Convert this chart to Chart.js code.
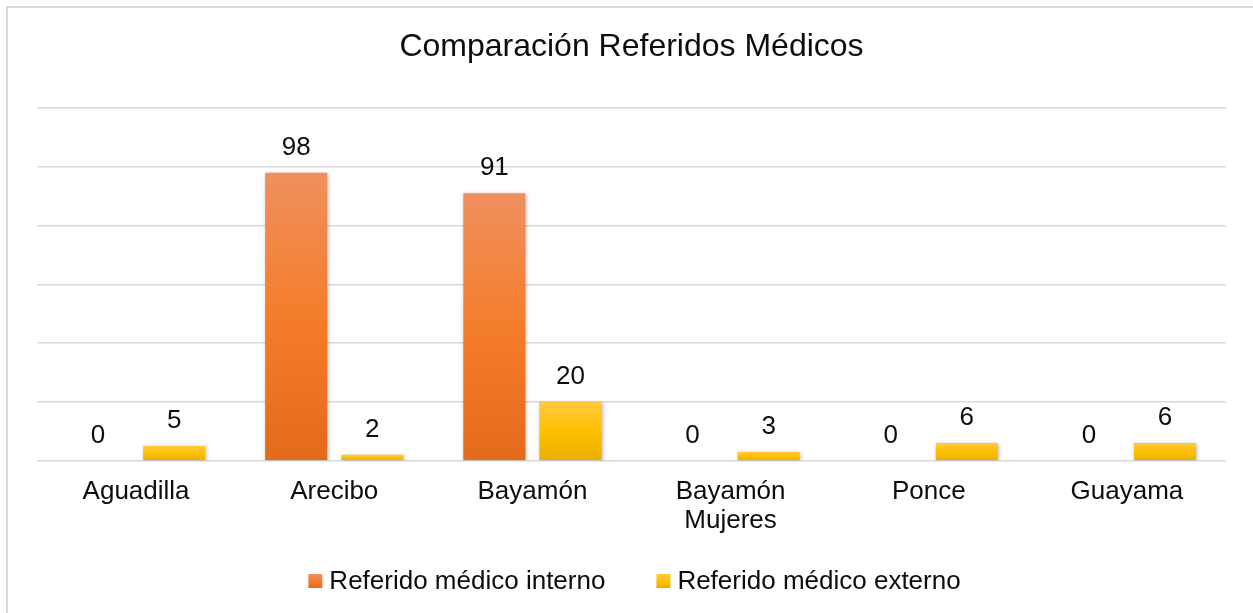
<!DOCTYPE html>
<html><head><meta charset="utf-8">
<script src="https://cdn.jsdelivr.net/npm/chart.js@4.4.1/dist/chart.umd.min.js"></script>
<style>
html,body{margin:0;padding:0;background:#fff;overflow:hidden;width:1253px;height:613px;}
#frame{position:absolute;left:6px;top:6px;width:1300px;height:700px;border:2px solid #d9d9d9;box-sizing:border-box;}
#c{position:absolute;left:8px;top:8px;}
</style></head><body>
<div id="frame"></div>
<canvas id="c" width="1253" height="605"></canvas>
<script>
const titleText = 'Comparación Referidos Médicos';
const categories = ['Aguadilla', 'Arecibo', 'Bayamón', ['Bayamón', 'Mujeres'], 'Ponce', 'Guayama'];
const seriesNames = ['Referido médico interno', 'Referido médico externo'];
const interno = [0, 98, 91, 0, 0, 0];
const externo = [5, 2, 20, 3, 6, 6];
const yMin = 0, yMax = 120, yStep = 20;

const FONT = "'Liberation Sans', Arial, sans-serif";
const TEXT = '#0d0d0d';
const orangeStops = ['#F0905E', '#F47D2B', '#E46A1C'];
const yellowStops = ['#FFC93F', '#FFC000', '#E8AF00'];

function barGradient(stops) {
  return (ctx) => {
    const chart = ctx.chart;
    if (!chart.chartArea || ctx.type !== 'data') return stops[1];
    const ys = chart.scales.y;
    const top = ys.getPixelForValue(ctx.parsed.y);
    const bot = ys.getPixelForValue(0);
    if (!(bot - top > 0.5)) return stops[1];
    const g = chart.ctx.createLinearGradient(0, top, 0, bot);
    g.addColorStop(0, stops[0]);
    g.addColorStop(0.5, stops[1]);
    g.addColorStop(1, stops[2]);
    return g;
  };
}

const shadowPlugin = {
  id: 'barShadow',
  beforeDatasetsDraw(chart) {
    const c = chart.ctx; c.save();
    c.shadowColor = 'rgba(0,0,0,0.28)';
    c.shadowBlur = 4; c.shadowOffsetX = 1; c.shadowOffsetY = 1;
  },
  afterDatasetsDraw(chart) {
    const c = chart.ctx; c.restore();
    c.save();
    c.font = '26px ' + FONT;
    c.fillStyle = TEXT;
    c.textAlign = 'center';
    c.textBaseline = 'middle';
    chart.data.datasets.forEach((ds, i) => {
      const meta = chart.getDatasetMeta(i);
      meta.data.forEach((el, j) => {
        c.fillText(String(ds.data[j]), el.x, el.y - 25);
      });
    });
    c.restore();
  }
};

const legendPlugin = {
  id: 'customLegend',
  afterDraw(chart) {
    const c = chart.ctx; c.save();
    c.font = '26px ' + FONT;
    const box = 14, gap = 7, spacing = 51;
    const items = chart.data.datasets.map((ds, i) => ({ text: ds.label, stops: i === 0 ? orangeStops : yellowStops }));
    const widths = items.map(it => box + gap + c.measureText(it.text).width);
    const total = widths.reduce((a, b) => a + b, 0) + spacing * (items.length - 1);
    let x = chart.width / 2 - total / 2;
    const cy = chart.height - 32;
    items.forEach((it, i) => {
      const g = c.createLinearGradient(0, cy - box / 2, 0, cy + box / 2);
      g.addColorStop(0, it.stops[0]); g.addColorStop(0.5, it.stops[1]); g.addColorStop(1, it.stops[2]);
      c.fillStyle = g;
      c.fillRect(x, cy - box / 2, box, box);
      c.fillStyle = TEXT;
      c.textAlign = 'left'; c.textBaseline = 'middle';
      c.fillText(it.text, x + box + gap, cy + 1);
      x += widths[i] + spacing;
    });
    c.restore();
  }
};

new Chart(document.getElementById('c'), {
  type: 'bar',
  data: {
    labels: categories,
    datasets: [
      { label: seriesNames[0], data: interno, backgroundColor: barGradient(orangeStops), borderWidth: 0, barPercentage: 0.816, categoryPercentage: 0.768 },
      { label: seriesNames[1], data: externo, backgroundColor: barGradient(yellowStops), borderWidth: 0, barPercentage: 0.816, categoryPercentage: 0.768 }
    ]
  },
  options: {
    responsive: false,
    animation: false,
    layout: { padding: { left: 29, right: 35, top: 0, bottom: 60 } },
    plugins: {
      legend: { display: false },
      tooltip: { enabled: false },
      title: {
        display: true, text: titleText, color: TEXT,
        font: { family: FONT, size: 32, weight: 'normal', lineHeight: 1.2 },
        padding: { top: 19.8, bottom: 41.8 }
      }
    },
    scales: {
      x: {
        grid: { display: false, drawTicks: false },
        border: { display: false },
        ticks: { color: TEXT, font: { family: FONT, size: 26, lineHeight: 1.1 }, padding: 17, autoSkip: false, maxRotation: 0 },
        afterFit: (s) => { s.height = 92.3; }
      },
      y: {
        min: yMin, max: yMax,
        ticks: { display: false, stepSize: yStep },
        grid: { color: '#d9d9d9', lineWidth: 1.5, drawTicks: false },
        border: { display: false }
      }
    }
  },
  plugins: [shadowPlugin, legendPlugin]
});
</script>
</body></html>
